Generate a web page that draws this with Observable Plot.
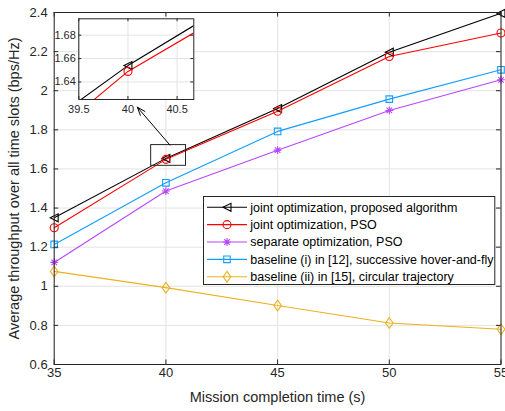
<!DOCTYPE html>
<html><head><meta charset="utf-8">
<script src="https://cdn.jsdelivr.net/npm/d3@7"></script>
<script src="https://cdn.jsdelivr.net/npm/@observablehq/plot@0.6"></script>
<style>
body{margin:0;background:#fff;}
#wrap{position:relative;width:505px;height:411px;overflow:hidden;font-family:"Liberation Sans",Arial,Helvetica,sans-serif;}
#wrap svg{overflow:visible;}
</style></head><body><div id="wrap"></div>
<script>
// ---- data ----
const times = [35, 40, 45, 50, 55];
const proposed    = [1.350, 1.654, 1.909, 2.197, 2.396];
const jointPSO    = [1.299, 1.649, 1.895, 2.175, 2.295];
const separatePSO = [1.122, 1.487, 1.696, 1.899, 2.056];
const baselineI   = [1.214, 1.529, 1.792, 1.957, 2.107];
const baselineII  = [1.076, 0.993, 0.902, 0.812, 0.780];
const seriesNames = [
  "joint optimization, proposed algorithm",
  "joint optimization, PSO",
  "separate optimization, PSO",
  "baseline (i) in [12], successive hover-and-fly",
  "baseline (ii) in [15], circular trajectory"
];
const seriesValues = [proposed, jointPSO, separatePSO, baselineI, baselineII];
const seriesColors = ["#000000", "#ff0000", "#b847ff", "#129eff", "#edb120"];
const xTicks = [35, 40, 45, 50, 55];
const yTicks = [0.6, 0.8, 1, 1.2, 1.4, 1.6, 1.8, 2, 2.2, 2.4];
const xLabel = "Mission completion time (s)";
const yLabel = "Average throughput over all time slots (bps/Hz)";
const insetSeries = [0, 1];
const insetXTicks = [39.5, 40, 40.5];
const insetYTicks = [1.64, 1.66, 1.68];
const insetXDomain = [39.5, 40.67];
const insetYDomain = [1.625, 1.694];
const zoomBox = [{x1: 39.34, x2: 40.9, y1: 1.616, y2: 1.722}];
const zoomArrow = [{x1: 40.18, y1: 1.722, x2: 38.72, y2: 1.916}];

// ---- symbols (MATLAB-like markers) ----
const triLeft = {draw(ctx, size) { const s = Math.sqrt(size) * 0.56; ctx.moveTo(-s, 0); ctx.lineTo(s, -s); ctx.lineTo(s, s); ctx.closePath(); }};
const diamondTall = {draw(ctx, size) { const s = Math.sqrt(size / 1.44); const w = s * 0.72; ctx.moveTo(0, -s); ctx.lineTo(w, 0); ctx.lineTo(0, s); ctx.lineTo(-w, 0); ctx.closePath(); }};
const asterisk8 = {draw(ctx, size) { const s = Math.sqrt(size) * 0.55; const d = s * Math.SQRT1_2;
  ctx.moveTo(-s, 0); ctx.lineTo(s, 0); ctx.moveTo(0, -s); ctx.lineTo(0, s);
  ctx.moveTo(-d, -d); ctx.lineTo(d, d); ctx.moveTo(-d, d); ctx.lineTo(d, -d); }};
const seriesSymbols = [triLeft, "circle", asterisk8, "square", diamondTall];
const seriesR = [4, 4, 4, 3.7, 3.6];

const rows = [];
seriesNames.forEach((name, i) => times.forEach((t, j) => rows.push({name, t, v: seriesValues[i][j], r: seriesR[i]})));

const font = '"Liberation Sans", Arial, Helvetica, sans-serif';
const axisColor = "#262626";
const gridColor = "#e3e3e3";
const fmt = d => String(d);

// ---- main chart ----
const W = 505, H = 411, mL = 53.7, mR = 4.5, mT = 12, mB = 47;
const plotW = W - mL - mR, plotH = H - mT - mB, tickLen = 4.5;

const main = Plot.plot({
  width: W, height: H, marginLeft: mL, marginRight: mR, marginTop: mT, marginBottom: mB,
  style: {fontFamily: font, fontSize: "13px", color: axisColor, background: "transparent", overflow: "visible"},
  x: {domain: [35, 55]},
  y: {domain: [0.6, 2.4]},
  color: {domain: seriesNames, range: seriesColors},
  symbol: {domain: seriesNames, range: seriesSymbols},
  r: {type: "identity"},
  marks: [
    Plot.ruleX(xTicks, {x: d => d, stroke: gridColor}),
    Plot.ruleY(yTicks, {y: d => d, stroke: gridColor}),
    Plot.line(rows, {x: "t", y: "v", z: "name", stroke: "name", strokeWidth: 1.1}),
    Plot.dot(rows, {x: "t", y: "v", symbol: "name", stroke: "name", fill: "none", r: "r", strokeWidth: 1.1}),
    Plot.rect(zoomBox, {x1: "x1", x2: "x2", y1: "y1", y2: "y2", fill: "none", stroke: axisColor, strokeWidth: 1}),
    Plot.arrow(zoomArrow, {x1: "x1", y1: "y1", x2: "x2", y2: "y2", stroke: "#000", strokeWidth: 1, headLength: 13, headAngle: 40}),
    Plot.frame({stroke: axisColor}),
    Plot.tickX(xTicks, {x: d => d, insetTop: plotH - tickLen, stroke: axisColor}),
    Plot.tickX(xTicks, {x: d => d, insetBottom: plotH - tickLen, stroke: axisColor}),
    Plot.tickY(yTicks, {y: d => d, insetRight: plotW - tickLen, stroke: axisColor}),
    Plot.tickY(yTicks, {y: d => d, insetLeft: plotW - tickLen, stroke: axisColor}),
    Plot.axisX(xTicks, {tickSize: 0, tickPadding: 3, label: null, fill: axisColor, tickFormat: fmt}),
    Plot.axisY(yTicks, {tickSize: 0, tickPadding: 6.5, label: null, fill: axisColor, tickFormat: fmt}),
    Plot.text([xLabel], {text: d => d, frameAnchor: "bottom", textAnchor: "middle", dy: 37.7, fontSize: 14.5, fill: axisColor}),
    Plot.text([yLabel], {text: d => d, frameAnchor: "left", textAnchor: "middle", dx: -39.7, rotate: -90, fontSize: 14.5, fill: axisColor})
  ]
});
const wrap = document.getElementById("wrap");
wrap.appendChild(main);
main.style.position = "absolute"; main.style.left = "0px"; main.style.top = "0px";

// ---- inset ----
const iLeft = 40, iTop = 8, iML = 38.3, iMT = 10.3, iFW = 115, iFH = 80.7, iMR = 4, iMB = 16;
const insetRows = rows.filter(d => insetSeries.includes(seriesNames.indexOf(d.name)));
const inset = Plot.plot({
  width: iML + iFW + iMR, height: iMT + iFH + iMB,
  marginLeft: iML, marginTop: iMT, marginRight: iMR, marginBottom: iMB,
  style: {fontFamily: font, fontSize: "11px", color: axisColor, background: "transparent", overflow: "visible"},
  x: {domain: insetXDomain},
  y: {domain: insetYDomain},
  color: {domain: seriesNames, range: seriesColors},
  symbol: {domain: seriesNames, range: seriesSymbols},
  r: {type: "identity"},
  marks: [
    Plot.frame({fill: "#fff"}),
    Plot.ruleX(insetXTicks, {x: d => d, stroke: gridColor}),
    Plot.ruleY(insetYTicks, {y: d => d, stroke: gridColor}),
    Plot.line(insetRows, {x: "t", y: "v", z: "name", stroke: "name", strokeWidth: 1.1, clip: true}),
    Plot.dot(insetRows.filter(d => d.t >= insetXDomain[0] && d.t <= insetXDomain[1]), {x: "t", y: "v", symbol: "name", stroke: "name", fill: "none", r: "r", strokeWidth: 1.1}),
    Plot.frame({stroke: axisColor}),
    Plot.tickX(insetXTicks, {x: d => d, insetTop: iFH - 3, stroke: axisColor}),
    Plot.tickX(insetXTicks, {x: d => d, insetBottom: iFH - 3, stroke: axisColor}),
    Plot.tickY(insetYTicks, {y: d => d, insetRight: iFW - 3, stroke: axisColor}),
    Plot.tickY(insetYTicks, {y: d => d, insetLeft: iFW - 3, stroke: axisColor}),
    Plot.axisX(insetXTicks, {tickSize: 0, tickPadding: 6, label: null, fill: axisColor, tickFormat: fmt}),
    Plot.axisY(insetYTicks, {tickSize: 0, tickPadding: 3, label: null, fill: axisColor, tickFormat: fmt})
  ]
});
wrap.appendChild(inset);
inset.style.position = "absolute"; inset.style.left = iLeft + "px"; inset.style.top = iTop + "px";

// ---- legend ----
const lg = {left: 202.7, top: 196, width: 292.3, height: 89, row0: 11.3, rowGap: 17.35, line0: 4, line1: 44, textX: 47.3};
const legSvg = d3.select(wrap).append("svg")
  .attr("width", lg.width).attr("height", lg.height)
  .style("position", "absolute").style("left", lg.left + "px").style("top", lg.top + "px");
legSvg.append("rect").attr("x", 0.5).attr("y", 0.5).attr("width", lg.width - 1).attr("height", lg.height - 1)
  .attr("fill", "#fff").attr("stroke", axisColor);
seriesNames.forEach((name, i) => {
  const y = lg.row0 + i * lg.rowGap;
  const g = legSvg.append("g");
  g.append("line").attr("x1", lg.line0).attr("x2", lg.line1).attr("y1", y).attr("y2", y)
    .attr("stroke", seriesColors[i]).attr("stroke-width", 1.1);
  const sym = seriesSymbols[i];
  const symType = typeof sym === "string" ? (sym === "circle" ? d3.symbolCircle : d3.symbolSquare) : sym;
  g.append("path").attr("d", d3.symbol(symType, Math.PI * seriesR[i] * seriesR[i])())
    .attr("transform", `translate(${(lg.line0 + lg.line1) / 2},${y})`)
    .attr("fill", "none").attr("stroke", seriesColors[i]).attr("stroke-width", 1.1);
  g.append("text").attr("x", lg.textX).attr("y", y).attr("dy", "0.35em")
    .attr("font-family", font).attr("font-size", 12.5).attr("fill", "#000").text(name);
});
</script></body></html>
